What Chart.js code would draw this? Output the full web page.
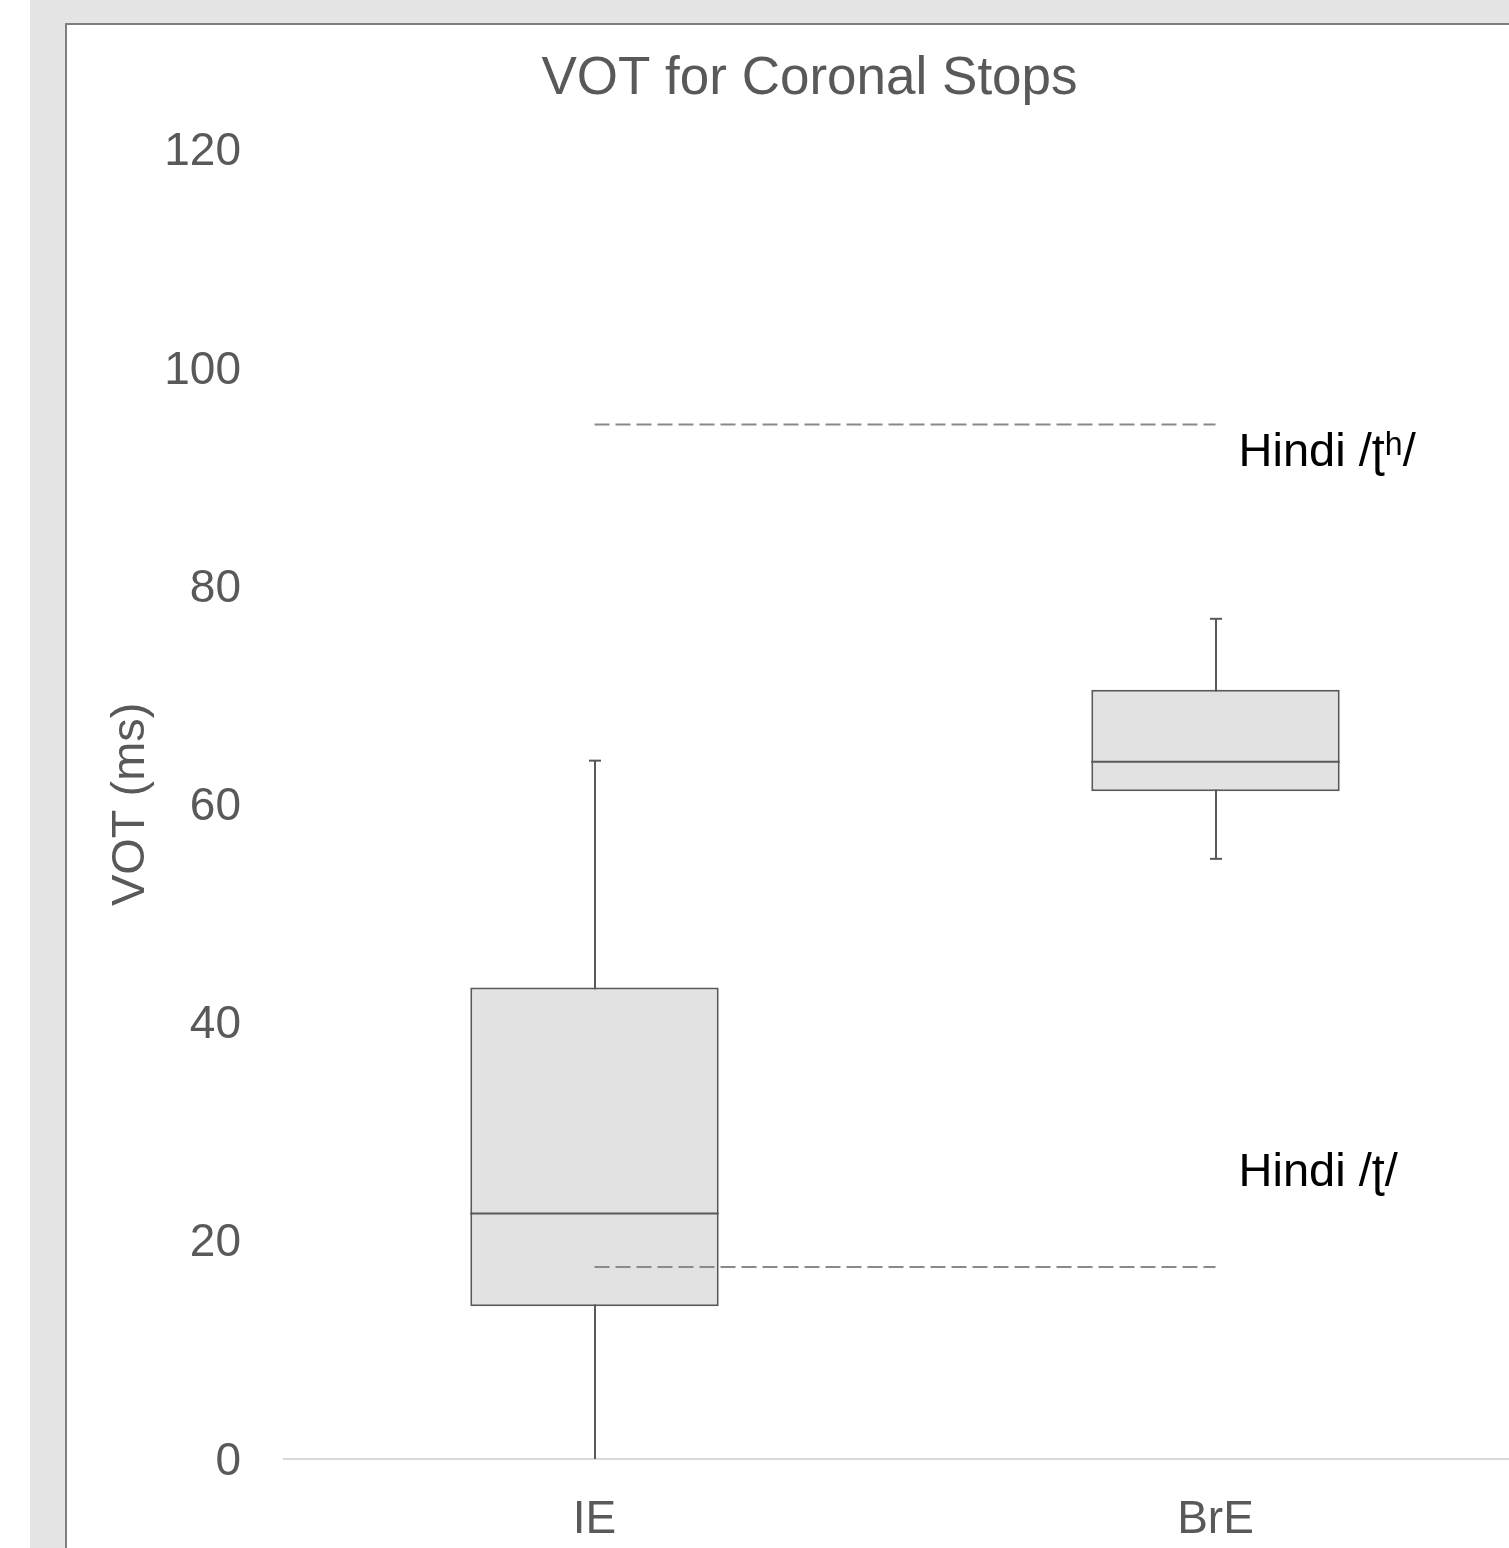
<!DOCTYPE html>
<html>
<head>
<meta charset="utf-8">
<script src="https://cdn.jsdelivr.net/npm/chart.js@4"></script>
<style>
  html, body { margin:0; padding:0; }
  body { width:1509px; height:1548px; overflow:hidden; background:#ffffff; position:relative; font-family:"Liberation Sans", Arial, sans-serif; }
  #bg { position:absolute; left:30px; top:0; width:1600px; height:1700px; background:#e5e5e5; }
  #panel { position:absolute; left:65px; top:23px; width:1600px; height:1700px; background:#ffffff; border:2px solid #7f7f7f; }
  #c { position:absolute; left:66px; top:24px; }
</style>
</head>
<body>
<div id="bg"></div>
<div id="panel"></div>
<canvas id="c" width="1540" height="1600"></canvas>
<script>
// ---- data ----
const categories = ['IE', 'BrE'];
const whiskerMin = [0, 55.0];
const q1 = [14.0, 61.2];
const median = [22.5, 63.9];
const q3 = [43.2, 70.5];
const whiskerMax = [64.0, 77.0];
const hindiAspirated = [94.8, 94.8];
const hindiUnaspirated = [17.6, 17.6];
const annotationTexts = ['Hindi /ʈʰ/', 'Hindi /ʈ/'];
const annotationValues = [91.0, 25.0];
const yMin = 0, yMax = 120, yStep = 20;

Chart.defaults.font.family = '"Liberation Sans", Arial, sans-serif';

const boxplotPlugin = {
  id: 'boxplotParts',
  beforeDatasetsDraw(chart) {
    const meta = chart.getDatasetMeta(0);
    const y = chart.scales.y;
    const ctx = chart.ctx;
    ctx.save();
    ctx.strokeStyle = '#595959';
    ctx.lineWidth = 2;
    meta.data.forEach((bar, i) => {
      const x = Math.round(bar.x);
      const yTop = y.getPixelForValue(whiskerMax[i]);
      const yBot = y.getPixelForValue(whiskerMin[i]);
      ctx.beginPath();
      ctx.moveTo(x, yTop);
      ctx.lineTo(x, yBot);
      ctx.stroke();
      ctx.beginPath();
      ctx.moveTo(x - 6, yTop);
      ctx.lineTo(x + 6, yTop);
      ctx.stroke();
      if (whiskerMin[i] > y.min) {
        ctx.beginPath();
        ctx.moveTo(x - 6, yBot);
        ctx.lineTo(x + 6, yBot);
        ctx.stroke();
      }
    });
    ctx.restore();
  },
  afterDatasetDraw(chart, args) {
    if (args.index !== 0) return;
    const meta = chart.getDatasetMeta(0);
    const y = chart.scales.y;
    const ctx = chart.ctx;
    ctx.save();
    ctx.strokeStyle = '#595959';
    ctx.lineWidth = 2;
    meta.data.forEach((bar, i) => {
      const ym = y.getPixelForValue(median[i]);
      ctx.beginPath();
      ctx.moveTo(bar.x - bar.width / 2, ym);
      ctx.lineTo(bar.x + bar.width / 2, ym);
      ctx.stroke();
    });
    ctx.restore();
  },
  afterDatasetsDraw(chart) {
    const x = chart.scales.x;
    const y = chart.scales.y;
    const ctx = chart.ctx;
    ctx.save();
    ctx.fillStyle = '#000000';
    ctx.font = '47px "Liberation Sans", Arial, sans-serif';
    ctx.textAlign = 'left';
    ctx.textBaseline = 'alphabetic';
    const xl = x.getPixelForValue(categories.length - 1) + 23;
    annotationTexts.forEach((t, i) => {
      ctx.fillText(t, xl, y.getPixelForValue(annotationValues[i]));
    });
    ctx.restore();
  }
};

new Chart(document.getElementById('c'), {
  data: {
    labels: categories,
    datasets: [
      {
        type: 'bar',
        label: 'box',
        data: categories.map((c, i) => [q1[i], q3[i]]),
        backgroundColor: '#e2e2e2',
        borderColor: '#595959',
        borderWidth: 2,
        borderSkipped: false,
        categoryPercentage: 1.0,
        barPercentage: 0.4,
        order: 1
      },
      {
        type: 'line',
        label: 'Hindi aspirated',
        data: hindiAspirated,
        borderColor: '#8a8a8a',
        borderWidth: 2,
        borderDash: [15, 6],
        pointRadius: 0,
        fill: false,
        order: 0
      },
      {
        type: 'line',
        label: 'Hindi unaspirated',
        data: hindiUnaspirated,
        borderColor: '#8a8a8a',
        borderWidth: 2,
        borderDash: [15, 6],
        pointRadius: 0,
        fill: false,
        order: 0
      }
    ]
  },
  options: {
    responsive: false,
    animation: false,
    devicePixelRatio: 1,
    layout: { padding: { left: 27, right: 80, top: 0, bottom: 0 } },
    plugins: {
      legend: { display: false },
      tooltip: { enabled: false },
      title: {
        display: true,
        text: 'VOT for Coronal Stops',
        color: '#595959',
        font: { size: 53, weight: 'normal' },
        padding: { top: 24, bottom: 38 }
      }
    },
    scales: {
      x: {
        type: 'category',
        offset: true,
        grid: { display: false, drawTicks: false },
        border: { display: true, color: '#d9d9d9', width: 2 },
        ticks: { color: '#595959', font: { size: 46 }, padding: 34 },
        afterFit(scale) { scale.height = 165; }
      },
      y: {
        min: yMin,
        max: yMax,
        grid: { display: false, drawTicks: false },
        border: { display: false },
        ticks: { stepSize: yStep, color: '#595959', font: { size: 46 }, padding: 43, labelOffset: 3 },
        title: {
          display: true,
          text: 'VOT (ms)',
          color: '#595959',
          font: { size: 47, weight: 'normal' },
          padding: { top: 10, bottom: 0 }
        },
        afterFit(scale) { scale.width = 191; }
      }
    }
  },
  plugins: [boxplotPlugin]
});
</script>
</body>
</html>
